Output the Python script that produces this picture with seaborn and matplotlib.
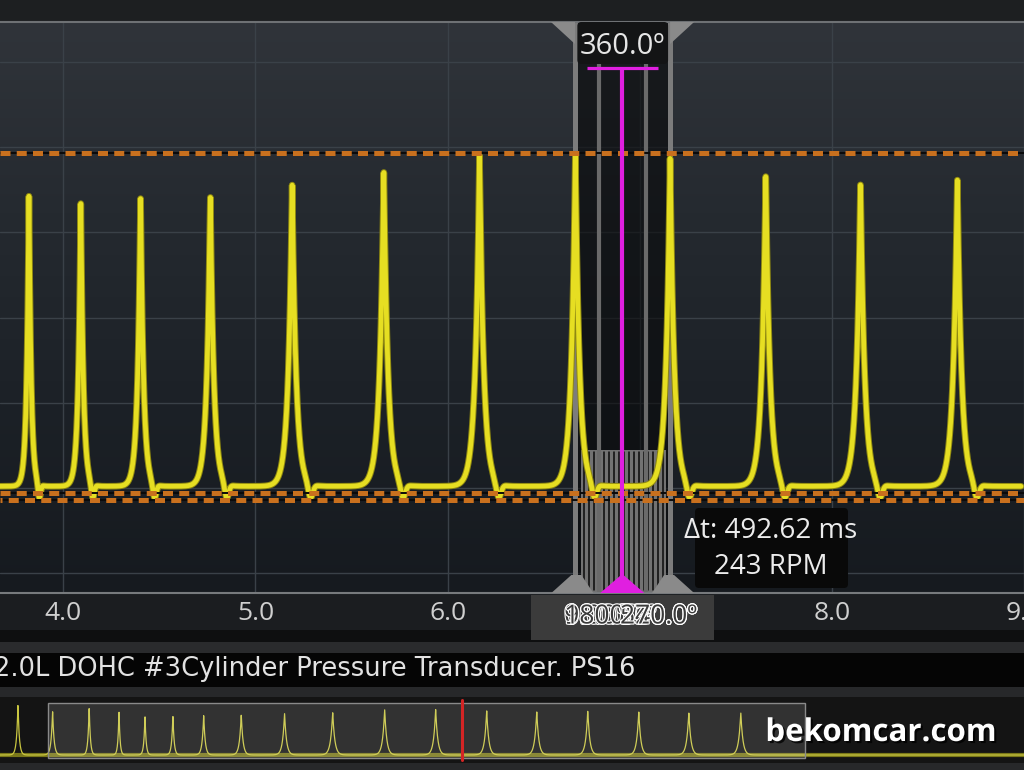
import numpy as np
import pandas as pd
import matplotlib
matplotlib.use("Agg")
import matplotlib.pyplot as plt
import seaborn as sns
from matplotlib.patches import Rectangle, Polygon, FancyBboxPatch
from matplotlib.colors import LinearSegmentedColormap
import matplotlib.patheffects as pe

# ---------------- data ----------------
peak_times = [3.821, 4.091, 4.402, 4.765, 5.191, 5.668, 6.166, 6.665, 7.158, 7.656, 8.149, 8.653]
peak_heights = [3.42, 3.34, 3.40, 3.44, 3.54, 3.71, 3.89, 3.89, 3.85, 3.67, 3.56, 3.62]
upper_limit = 3.93
lower_limits = [-0.06, -0.14]
x_ticks = [4.0, 5.0, 6.0, 7.0, 8.0, 9.0]
x_tick_labels = ["4.0", "5.0", "6.0", "7.0", "8.0", "9.0"]
y_grid = [-1, 0, 1, 2, 3, 4, 5]
cursor_a, cursor_b = 6.665, 7.158
cursor_inner = [6.789, 7.033]
cursor_mid = 6.909
cursor_angle_label = "360.0º"
delta_t_label = "Δt: 492.62 ms"
rpm_label = "243 RPM"
angle_labels_left = ["0.0º", "180.0º", "90.0º", "1800.0º"]
angle_labels_right = ["360.0º", "540.0º", "720.0º", "270.0º"]
channel_title = "2.0L DOHC #3Cylinder Pressure Transducer. PS16"
overview_times = [2.77, 3.13, 3.51, 3.82, 4.09, 4.38, 4.70, 5.09, 5.54, 6.04, 6.58, 7.11,
                  7.64, 8.16, 8.69, 9.22, 9.74, 10.28]
overview_heights = [50, 44, 49, 45, 40, 40, 40, 41, 42, 43, 46, 46, 45, 44, 44, 44, 43, 43]
overview_window = (3.08, 10.95)
overview_marker = 7.38
watermark = "bekomcar.com"

# ---------------- figure ----------------
W, H = 1024, 770
sns.set_theme(style="dark")
plt.rcParams["font.family"] = ["Open Sans", "DejaVu Sans"]

fig = plt.figure(figsize=(W / 100, H / 100), dpi=100, facecolor="#1c1e20")

# background bands (UI chrome)
bg = fig.add_axes([0, 0, 1, 1], zorder=-5)
bg.set_xlim(0, W); bg.set_ylim(H, 0); bg.axis("off")
for y0, y1, c in [(0, 22, "#1d1f21"), (593, 630, "#1b1d20"), (630, 642, "#0e0f10"),
                  (642, 653, "#2a2b2d"), (653, 687, "#050505"), (687, 697, "#27282a"),
                  (697, 763, "#141414"), (763, 770, "#27282a")]:
    bg.add_patch(Rectangle((0, y0), W, y1 - y0, color=c, lw=0))

# ---------------- main scope axes ----------------
top_px, bot_px = 22, 593
ax = fig.add_axes([0, (H - bot_px) / H, 1, (bot_px - top_px) / H])
xmin = 4 - 63.5 / 192.7
xmax = xmin + W / 192.7
grad = np.linspace(0, 1, 256).reshape(-1, 1)
cmap = LinearSegmentedColormap.from_list("bgc", ["#30343a", "#252a30", "#1c2127", "#161a1f"])
ax.imshow(grad, extent=[0, 1, 0, 1], transform=ax.transAxes, cmap=cmap, aspect="auto", zorder=0)
ax.set_xlim(xmin, xmax)
ax.set_ylim(-1.233, 5.471)
ax.set_xticks(x_ticks)
ax.set_xticklabels(x_tick_labels)
ax.set_yticks(y_grid)
ax.grid(True, color="#3a4148", lw=1.0)
ax.set_axisbelow(True)
ax.tick_params(axis="x", length=0, colors="#cfcfcf", labelsize=19, pad=6)
ax.tick_params(axis="y", length=0, labelleft=False)
for s in ["left", "right"]:
    ax.spines[s].set_visible(False)
ax.spines["top"].set_color("#6e7174"); ax.spines["top"].set_linewidth(1.5)
ax.spines["bottom"].set_color("#777a7d"); ax.spines["bottom"].set_linewidth(1.5)


def yfrac(py):
    return (bot_px - py) / (bot_px - top_px)


# cursor column
ax.axvspan(cursor_a, cursor_b, color="#08090a", alpha=0.6, lw=0, zorder=0.7)
ax.axvspan(cursor_a + 0.03, cursor_b - 0.022, ymin=0, ymax=yfrac(450), color="#727272", lw=0, zorder=0.8)
for xs in np.linspace(cursor_a + 0.045, cursor_b - 0.035, 17):
    ax.axvline(xs, ymin=0.005, ymax=yfrac(452), color="#0a0a0a", lw=1.1, zorder=0.9)
for xc in cursor_inner:
    ax.axvline(xc, ymin=0, ymax=yfrac(64), color="#6a6a6a", lw=3.0, zorder=1.0)
for xc in (cursor_a, cursor_b):
    ax.axvline(xc, color="#7c7c7c", lw=3.6, zorder=1.1)

# waveform built from the read peak list
t = np.linspace(xmin, xmax, 9000)
periods = list(np.diff(peak_times)) + [peak_times[-1] - peak_times[-2]]
trace = np.full_like(t, 0.02)
for pt, ph, per in zip(peak_times, peak_heights, periods):
    w = 0.044 * per
    trace += ph * np.exp(-np.abs(t - pt) / w)
    trace -= 0.17 * np.exp(-((t - pt - 0.2 * per) / (0.035 * per)) ** 2)
df = pd.DataFrame({"time": t, "pressure": trace})
sns.lineplot(data=df, x="time", y="pressure", ax=ax, color="#8e8812", lw=4.8,
             estimator=None, zorder=3)
sns.lineplot(data=df, x="time", y="pressure", ax=ax, color="#e6de22", lw=3.4,
             estimator=None, zorder=3.1)
ax.set_xlabel(""); ax.set_ylabel("")

# threshold dashed lines
ax.axhline(upper_limit, color="#0a0a0a", lw=1.4, zorder=3.9)
ax.axhline(upper_limit, color="#c8701e", lw=3.6, linestyle=(0, (2.0, 1.25)), zorder=4)
for i, yl in enumerate(lower_limits):
    ax.axhline(yl, color="#0a0a0a", lw=1.4, zorder=3.9)
    ax.axhline(yl, color="#c8701e", lw=3.6, linestyle=(1.6 * i, (2.0, 1.25)), zorder=4)


def to_px(x):
    return ax.transData.transform((x, 0))[0]


xa, xb, xm = to_px(cursor_a), to_px(cursor_b), to_px(cursor_mid)

# ---------------- overview strip ----------------
ov_top, ov_bot = 697, 763
ax2 = fig.add_axes([0, (H - ov_bot) / H, 1, (ov_bot - ov_top) / H])
ax2.set_facecolor("none")
x2min = 3.82 - 119 / 96.25
x2max = 3.82 + (W - 119) / 96.25
t2 = np.linspace(x2min, x2max, 8000)
tr2 = np.zeros_like(t2)
per2 = list(np.diff(overview_times)) + [overview_times[-1] - overview_times[-2]]
for pt, ph, per in zip(overview_times, overview_heights, per2):
    tr2 += ph * np.exp(-np.abs(t2 - pt) / (0.04 * per))
ax2.axhline(0, color="#7a781a", lw=3.0, zorder=1)
sns.lineplot(x=t2, y=tr2, ax=ax2, color="#c9c640", lw=0.9, estimator=None, zorder=2)
ax2.set_xlim(x2min, x2max)
ax2.set_ylim(-8, 58)
ax2.axvspan(overview_window[0], overview_window[1], ymin=5 / 66, ymax=60 / 66,
            facecolor=(1, 1, 1, 0.13), edgecolor="#8a8a8a", lw=1.0, zorder=3)
ax2.axvline(overview_marker, ymin=3 / 66, ymax=63 / 66, color="#d42525", lw=2.2, zorder=4)
ax2.axis("off")

# ---------------- overlay (cursor chrome, labels) ----------------
ov = fig.add_axes([0, 0, 1, 1], zorder=10)
ov.set_xlim(0, W); ov.set_ylim(H, 0); ov.axis("off"); ov.patch.set_alpha(0)

grey = "#8a8a8a"
ov.add_patch(Polygon([(xa - 24, 22), (xa, 22), (xa, 44)], closed=True, fc=grey, ec="none"))
ov.add_patch(Polygon([(xb, 22), (xb + 24, 22), (xb, 44)], closed=True, fc=grey, ec="none"))
ov.add_patch(FancyBboxPatch((xa + 2, 22), xb - xa - 4, 42,
                            boxstyle="round,pad=0,rounding_size=4", fc="#131415", ec="none"))
ov.text(xm, 46, cursor_angle_label, ha="center", va="center", fontsize=21, color="#e6e6e6")

mag = "#e01fe0"
ov.plot([xm - 35, xm + 36], [68, 68], color=mag, lw=2.3, solid_capstyle="butt")
ov.plot([xm, xm], [68, 591], color=mag, lw=3.0, solid_capstyle="butt")

ov.add_patch(Polygon([(xa - 24, 593), (xa + 18, 593), (xa + 6, 575), (xa - 4, 575)],
                     closed=True, fc=grey, ec="none"))
ov.add_patch(Polygon([(xb - 18, 593), (xb + 24, 593), (xb + 4, 575), (xb - 6, 575)],
                     closed=True, fc=grey, ec="none"))
ov.add_patch(Polygon([(xm - 22, 593), (xm + 22, 593), (xm, 574)], closed=True, fc=mag, ec="none"))

# bottom angle box with overlapping (garbled) labels, as in the reference
ov.add_patch(Rectangle((xm - 91.5, 595), 183, 45, fc="#3b3b3b", ec="none"))
stroke = [pe.withStroke(linewidth=1.6, foreground="white")]
for lab in angle_labels_left:
    ov.text(xm - 58, 617, lab, ha="left", va="center", fontsize=19, color="#3b3b3b",
            path_effects=stroke)
for lab in angle_labels_right:
    ov.text(xm + 75, 617, lab, ha="right", va="center", fontsize=19, color="#3b3b3b",
            path_effects=stroke)

# delta-t box
ov.add_patch(FancyBboxPatch((695, 508), 153, 80, boxstyle="round,pad=0,rounding_size=4",
                            fc="#090909", ec="none"))
ov.text(771, 531, delta_t_label, ha="center", va="center", fontsize=20, color="#ececec")
ov.text(771, 567, rpm_label, ha="center", va="center", fontsize=20, color="#ececec")

# channel title
ov.text(-6, 669, channel_title, ha="left", va="center", fontsize=18.5, color="#e2e2e2",
        family="DejaVu Sans")

# watermark
ov.text(881, 733, watermark, ha="center", va="center", fontsize=22.5, fontweight="bold",
        color="white", path_effects=[pe.withSimplePatchShadow(offset=(1.5, -1.5),
                                                              shadow_rgbFace="black", alpha=0.8)])

fig.savefig("out.png", dpi=100, facecolor=fig.get_facecolor())
